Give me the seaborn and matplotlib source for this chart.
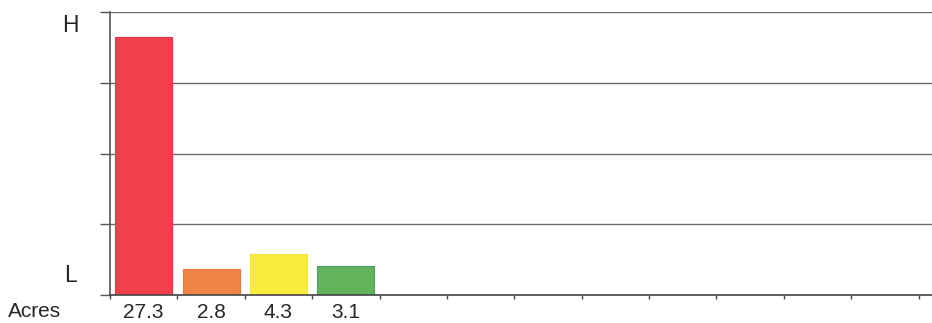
import numpy as np
import pandas as pd
import seaborn as sns
import matplotlib.pyplot as plt

# bar data
categories = ['A', 'B', 'C', 'D']
acres = [27.3, 2.8, 4.3, 3.1]
value_labels = ['27.3', '2.8', '4.3', '3.1']
bar_colors = ['#f2404d', '#ef8444', '#f9ec3f', '#62b35c']
edge_colors = ['#e8304a', '#e8793a', '#f2e43a', '#4f9a6a']
n_slots = 12.2

df = pd.DataFrame({'cat': categories, 'acres': acres})

sns.set_style('white')
plt.rcParams['font.family'] = ['Liberation Sans', 'DejaVu Sans']

fig = plt.figure(figsize=(9.32, 3.23), dpi=100)
ax = fig.add_axes([110 / 932, 28 / 323, 822 / 932, 283 / 323])

sns.barplot(data=df, x='cat', y='acres', hue='cat', palette=bar_colors,
            order=categories, width=0.845, legend=False, ax=ax, saturation=1)
for patch, ec in zip(ax.patches, edge_colors):
    patch.set_edgecolor(ec)
    patch.set_linewidth(0.8)

ax.set_ylim(0, 30)
ax.set_xlim(-0.5, n_slots - 0.5)

# horizontal grid
ax.set_yticks([0, 7.5, 15, 22.5, 30])
ax.set_yticklabels([])
ax.yaxis.grid(True, color='#6a6a6a', linewidth=1.0)
ax.set_axisbelow(True)
ax.tick_params(axis='y', direction='out', length=7, width=1, color='#555555', left=True)

# slot boundary ticks + labels under bars
ax.set_xticks(np.arange(-0.5, n_slots - 0.5, 1.0))
ax.set_xticklabels([])
ax.tick_params(axis='x', which='major', direction='out', length=3, width=1,
               color='#444444', bottom=True)
ax.set_xticks(range(len(categories)), minor=True)
ax.set_xticklabels(value_labels, minor=True, fontsize=15)
ax.tick_params(axis='x', which='minor', length=0, pad=6)

for side in ['top', 'right']:
    ax.spines[side].set_visible(False)
ax.spines['left'].set_color('#555555')
ax.spines['bottom'].set_color('#444444')
ax.spines['left'].set_linewidth(1.2)
ax.spines['bottom'].set_linewidth(1.2)

ax.set_xlabel('')
ax.set_ylabel('')

ax.text(-40 / 822, 0.954, 'H', transform=ax.transAxes, ha='center', va='center', fontsize=16.5)
ax.text(-40 / 822, 0.07, 'L', transform=ax.transAxes, ha='center', va='center', fontsize=16.5)
ax.text(-75 / 822, -0.058, 'Acres', transform=ax.transAxes, ha='center', va='center', fontsize=15)

fig.savefig('out.png', dpi=100)
